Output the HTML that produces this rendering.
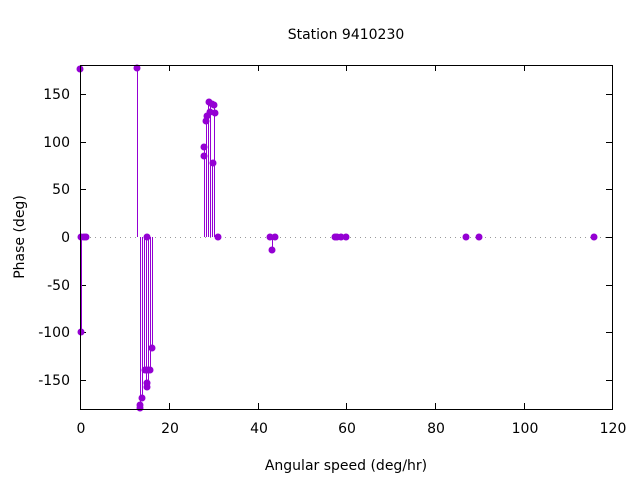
<!DOCTYPE html>
<html><head><style>body{margin:0;background:#fff}svg{display:block}text{font-family:"DejaVu Sans","Liberation Sans",sans-serif;font-size:14px;fill:#000}</style></head>
<body>
<svg width="640" height="480" xmlns="http://www.w3.org/2000/svg">
<rect width="640" height="480" fill="#fff"/>
<line x1="80" y1="237.5" x2="612" y2="237.5" stroke="#999" stroke-dasharray="1,4" stroke-width="1"/>
<g stroke="#000" stroke-width="1" shape-rendering="crispEdges">
<line x1="80" y1="94.5" x2="86" y2="94.5"/><line x1="612" y1="94.5" x2="606" y2="94.5"/>
<line x1="80" y1="142.5" x2="86" y2="142.5"/><line x1="612" y1="142.5" x2="606" y2="142.5"/>
<line x1="80" y1="189.5" x2="86" y2="189.5"/><line x1="612" y1="189.5" x2="606" y2="189.5"/>
<line x1="80" y1="237.5" x2="86" y2="237.5"/><line x1="612" y1="237.5" x2="606" y2="237.5"/>
<line x1="80" y1="285.5" x2="86" y2="285.5"/><line x1="612" y1="285.5" x2="606" y2="285.5"/>
<line x1="80" y1="332.5" x2="86" y2="332.5"/><line x1="612" y1="332.5" x2="606" y2="332.5"/>
<line x1="80" y1="380.5" x2="86" y2="380.5"/><line x1="612" y1="380.5" x2="606" y2="380.5"/>
<line x1="169.5" y1="409" x2="169.5" y2="403"/><line x1="169.5" y1="65" x2="169.5" y2="71"/>
<line x1="258.5" y1="409" x2="258.5" y2="403"/><line x1="258.5" y1="65" x2="258.5" y2="71"/>
<line x1="346.5" y1="409" x2="346.5" y2="403"/><line x1="346.5" y1="65" x2="346.5" y2="71"/>
<line x1="435.5" y1="409" x2="435.5" y2="403"/><line x1="435.5" y1="65" x2="435.5" y2="71"/>
<line x1="524.5" y1="409" x2="524.5" y2="403"/><line x1="524.5" y1="65" x2="524.5" y2="71"/>
</g>
<g stroke="#9400d3" stroke-width="1" shape-rendering="crispEdges">
<line x1="80.5" y1="69" x2="80.5" y2="237"/><line x1="81.5" y1="332" x2="81.5" y2="237"/>
<line x1="137.5" y1="68" x2="137.5" y2="237"/>
<line x1="140.5" y1="405" x2="140.5" y2="237"/>
<line x1="142.5" y1="398" x2="142.5" y2="237"/><line x1="144.5" y1="370" x2="144.5" y2="237"/>
<line x1="146.5" y1="384" x2="146.5" y2="237"/><line x1="148.5" y1="386" x2="148.5" y2="237"/>
<line x1="150.5" y1="370" x2="150.5" y2="237"/><line x1="152.5" y1="348" x2="152.5" y2="237"/>
<line x1="204.5" y1="147" x2="204.5" y2="237"/>
<line x1="206.5" y1="122" x2="206.5" y2="237"/>
<line x1="208.5" y1="102" x2="208.5" y2="237"/><line x1="210.5" y1="104" x2="210.5" y2="237"/>
<line x1="212.5" y1="163" x2="212.5" y2="237"/>
<line x1="214.5" y1="105" x2="214.5" y2="237"/>
<line x1="272.5" y1="250" x2="272.5" y2="237"/>
</g>
<g fill="#9400d3">
<circle cx="80" cy="69" r="3.5"/><circle cx="81" cy="237" r="3.5"/><circle cx="84" cy="237" r="3.5"/><circle cx="86" cy="237" r="3.5"/><circle cx="81" cy="332" r="3.5"/>
<circle cx="137" cy="68" r="3.5"/>
<circle cx="140" cy="405" r="3.5"/><circle cx="140" cy="408" r="3.5"/><circle cx="142" cy="398" r="3.5"/>
<circle cx="145" cy="370" r="3.5"/><circle cx="147" cy="370" r="3.5"/><circle cx="150" cy="370" r="3.5"/>
<circle cx="147" cy="383" r="3.5"/><circle cx="147" cy="387" r="3.5"/><circle cx="147" cy="237" r="3.5"/><circle cx="152" cy="348" r="3.5"/>
<circle cx="204" cy="147" r="3.5"/><circle cx="204" cy="156" r="3.5"/><circle cx="206" cy="121" r="3.5"/><circle cx="207" cy="116" r="3.5"/>
<circle cx="209" cy="102" r="3.5"/><circle cx="212" cy="104" r="3.5"/><circle cx="210" cy="112" r="3.5"/><circle cx="214" cy="105" r="3.5"/>
<circle cx="215" cy="113" r="3.5"/><circle cx="213" cy="163" r="3.5"/><circle cx="218" cy="237" r="3.5"/>
<circle cx="270" cy="237" r="3.5"/><circle cx="272" cy="250" r="3.5"/><circle cx="275" cy="237" r="3.5"/>
<circle cx="335" cy="237" r="3.5"/><circle cx="337" cy="237" r="3.5"/><circle cx="341" cy="237" r="3.5"/><circle cx="346" cy="237" r="3.5"/>
<circle cx="466" cy="237" r="3.5"/><circle cx="479" cy="237" r="3.5"/><circle cx="594" cy="237" r="3.5"/>
</g>
<rect x="80.5" y="65.5" width="532" height="344" fill="none" stroke="#000" stroke-width="1" shape-rendering="crispEdges"/>
<g text-anchor="end">
<text x="70" y="99">150</text><text x="70" y="147">100</text><text x="70" y="194">50</text><text x="70" y="242">0</text>
<text x="70" y="290">-50</text><text x="70" y="337">-100</text><text x="70" y="385">-150</text>
</g>
<g text-anchor="middle">
<text x="81" y="433">0</text><text x="170" y="433">20</text><text x="259" y="433">40</text><text x="347" y="433">60</text>
<text x="436" y="433">80</text><text x="525" y="433">100</text><text x="613" y="433">120</text>
<text x="346" y="39">Station 9410230</text>
<text x="346" y="470">Angular speed (deg/hr)</text>
<text transform="translate(24,237) rotate(-90)">Phase (deg)</text>
</g>
</svg>
</body></html>
